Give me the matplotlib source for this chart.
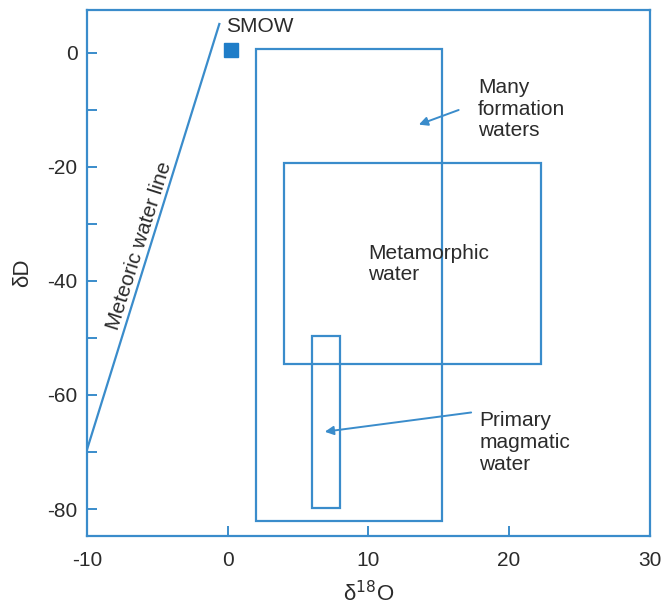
"""Stable isotope plot: dD vs d18O for different water types."""

import matplotlib

matplotlib.use("Agg")
import matplotlib.pyplot as plt
from matplotlib.patches import Rectangle

BLUE = "#3a8ccb"
TEXT = "#2b2b2b"

# fields as (x0, x1, y0, y1) in permil
formation_box = [2.0, 15.2, -82.0, 0.6]
metamorphic_box = [4.0, 22.3, -54.5, -19.3]
magmatic_box = [6.0, 8.0, -79.8, -49.6]

# meteoric water line endpoints
mwl_x = [-10.0, -0.6]
mwl_y = [-69.5, 5.0]

smow_x = [0.2]
smow_y = [0.5]

x_ticks = [-10, 0, 10, 20, 30]
y_ticks = [0, -20, -40, -60, -80]
y_minor = [-10, -30, -50, -70]

plt.rcParams["font.family"] = ["Liberation Sans", "DejaVu Sans"]
plt.rcParams["axes.unicode_minus"] = False

fig = plt.figure(figsize=(6.65, 6.07), dpi=100)
ax = fig.add_axes([0.131, 0.117, 0.846, 0.867])

for x0, x1, y0, y1 in (formation_box, metamorphic_box, magmatic_box):
    ax.add_patch(Rectangle((x0, y0), x1 - x0, y1 - y0, fill=False,
                           edgecolor=BLUE, linewidth=1.6))

ax.plot(mwl_x, mwl_y, color=BLUE, linewidth=1.6)
ax.plot(smow_x, smow_y, marker="s", markersize=10, color="#1f7dc8",
        linestyle="none")
ax.text(-0.1, 4.6, "SMOW", fontsize=15, color=TEXT, va="center", ha="left")

ax.text(-6.3, -33.9, "Meteoric water line", fontsize=15, color=TEXT,
        rotation=72.3, ha="center", va="center", rotation_mode="anchor")

ax.text(17.8, -9.9, "Many\nformation\nwaters", fontsize=15, color=TEXT,
        ha="left", va="center", linespacing=1.15)
ax.annotate("", xy=(13.4, -12.8), xytext=(16.6, -9.9),
            arrowprops=dict(arrowstyle="-|>", color=BLUE, lw=1.4,
                            mutation_scale=13))

ax.text(10.0, -37.0, "Metamorphic\nwater", fontsize=15, color=TEXT,
        ha="left", va="center", linespacing=1.15)

ax.text(17.9, -68.3, "Primary\nmagmatic\nwater", fontsize=15, color=TEXT,
        ha="left", va="center", linespacing=1.2)
ax.annotate("", xy=(6.7, -66.5), xytext=(17.5, -63.0),
            arrowprops=dict(arrowstyle="-|>", color=BLUE, lw=1.4,
                            mutation_scale=13))

ax.set_xlim(-10, 30)
ax.set_ylim(-84.7, 7.5)
ax.set_xticks(x_ticks)
ax.set_yticks(y_ticks)
ax.set_yticks(y_minor, minor=True)
ax.tick_params(direction="in", length=7, width=1.4, color=BLUE,
               labelsize=15, labelcolor=TEXT)
ax.tick_params(axis="x", pad=11)
ax.tick_params(axis="y", pad=7)
ax.tick_params(which="minor", direction="in", length=7, width=1.4, color=BLUE)

for spine in ax.spines.values():
    spine.set_color(BLUE)
    spine.set_linewidth(1.6)

ax.set_xlabel("δ$^{18}$O", fontsize=16, color=TEXT, labelpad=8)
ax.set_ylabel("δD", fontsize=16, color=TEXT, labelpad=10)

fig.savefig("out.png", dpi=100)
